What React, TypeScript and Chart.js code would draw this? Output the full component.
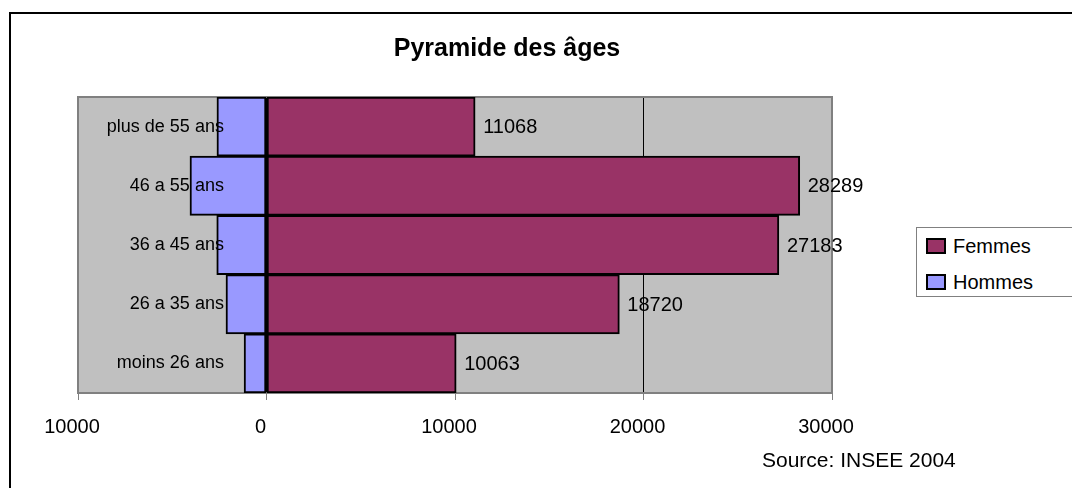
import React, { useEffect, useRef } from "react";
import { Chart, registerables } from "chart.js";

Chart.register(...registerables);

const categories = ["plus de 55 ans", "46 a 55 ans", "36 a 45 ans", "26 a 35 ans", "moins 26 ans"];
const femmes = [11068, 28289, 27183, 18720, 10063];
const hommes = [-2630, -4060, -2640, -2150, -1190];
const xTicks = [-10000, 0, 10000, 20000, 30000];
const titleText = "Pyramide des âges";
const sourceText = "Source: INSEE 2004";

const FONT = "'Liberation Sans', Arial, sans-serif";
const FEMMES_COLOR = "#993366";
const HOMMES_COLOR = "#9999ff";

const plotPlugin = {
  id: "plotDecor",
  beforeDraw(chart: any) {
    const { ctx, chartArea } = chart;
    ctx.save();
    ctx.fillStyle = "#c0c0c0";
    ctx.fillRect(chartArea.left, chartArea.top, chartArea.right - chartArea.left, chartArea.bottom - chartArea.top);
    ctx.restore();
  },
  beforeDatasetsDraw(chart: any) {
    const { ctx, chartArea } = chart;
    ctx.save();
    ctx.strokeStyle = "#808080";
    ctx.lineWidth = 2;
    ctx.strokeRect(chartArea.left, chartArea.top, chartArea.right - chartArea.left, chartArea.bottom - chartArea.top);
    ctx.restore();
  },
  afterDatasetsDraw(chart: any) {
    const { ctx } = chart;
    const xs = chart.scales.x;
    const ys = chart.scales.y;
    ctx.save();
    ctx.fillStyle = "#000";
    ctx.textBaseline = "middle";
    // category labels
    ctx.font = `18px ${FONT}`;
    ctx.textAlign = "right";
    categories.forEach((c, i) => {
      ctx.fillText(c, xs.getPixelForValue(-2260), ys.getPixelForValue(i));
    });
    // data labels for Femmes
    ctx.font = `20px ${FONT}`;
    ctx.textAlign = "left";
    const meta = chart.getDatasetMeta(0);
    meta.data.forEach((bar: any, i: number) => {
      ctx.fillText(String(femmes[i]), bar.x + 8, bar.y + 1);
    });
    ctx.restore();
  },
};

function PyramidChart() {
  const ref = useRef<HTMLCanvasElement | null>(null);
  useEffect(() => {
    if (!ref.current) return;
    const chart = new Chart(ref.current, {
      type: "bar",
      data: {
        labels: categories,
        datasets: [
          {
            label: "Femmes",
            data: femmes,
            backgroundColor: FEMMES_COLOR,
            borderColor: "#000",
            borderWidth: 2,
            borderSkipped: false,
            barPercentage: 1,
            categoryPercentage: 1,
          },
          {
            label: "Hommes",
            data: hommes,
            backgroundColor: HOMMES_COLOR,
            borderColor: "#000",
            borderWidth: 2,
            borderSkipped: false,
            barPercentage: 1,
            categoryPercentage: 1,
          },
        ],
      },
      options: {
        indexAxis: "y",
        animation: false,
        responsive: false,
        maintainAspectRatio: false,
        layout: { padding: { left: 78, right: 240, top: 97, bottom: 0 } },
        plugins: { legend: { display: false }, title: { display: false }, tooltip: { enabled: false } },
        scales: {
          x: {
            type: "linear",
            stacked: true,
            min: -10000,
            max: 30000,
            afterBuildTicks(scale: any) {
              scale.ticks = xTicks.map((v) => ({ value: v }));
            },
            afterFit(scale: any) {
              scale.height = 95;
            },
            grid: {
              color: (c: any) => {
                const v = c.tick && c.tick.value;
                return v === -10000 || v === 30000 ? "rgba(0,0,0,0)" : "#000";
              },
              lineWidth: 1,
              drawTicks: true,
              tickLength: 7,
              tickColor: "#808080",
              tickWidth: 1,
            },
            border: { display: true, color: "#808080", width: 2 },
            ticks: {
              color: "#000",
              font: { family: FONT, size: 20 },
              padding: 15,
              labelOffset: -6,
              maxRotation: 0,
              callback: (v: any) => String(Math.abs(Number(v))),
            },
          },
          y: {
            type: "category",
            stacked: true,
            display: false,
          },
        },
      },
      plugins: [plotPlugin],
    } as any);
    return () => chart.destroy();
  }, []);
  return <canvas ref={ref} width={1072} height={488} style={{ position: "absolute", left: 0, top: 0, width: 1072, height: 488 }} />;
}

function LegendItem({ color, label }: { color: string; label: string }) {
  return (
    <div style={{ display: "flex", alignItems: "center", height: 36 }}>
      <div style={{ width: 16, height: 12, background: color, border: "2px solid #000", marginRight: 7 }} />
      <span style={{ fontSize: 20, fontFamily: FONT, color: "#000" }}>{label}</span>
    </div>
  );
}

export default function App() {
  return (
    <div style={{ position: "fixed", left: 0, top: 0, width: 1072, height: 488, overflow: "hidden", background: "#fff" }}>
      <div style={{ position: "absolute", left: 9, top: 12, width: 1200, height: 600, borderLeft: "2px solid #000", borderTop: "2px solid #000" }} />
      <PyramidChart />
      <div style={{ position: "absolute", left: 0, width: 1014, top: 33, textAlign: "center", fontFamily: FONT, fontWeight: "bold", fontSize: 25, color: "#000" }}>{titleText}</div>
      <div style={{ position: "absolute", left: 916, top: 227, width: 200, height: 70, border: "1px solid #808080", background: "#fff", paddingLeft: 9, boxSizing: "border-box" }}>
        <LegendItem color={FEMMES_COLOR} label="Femmes" />
        <LegendItem color={HOMMES_COLOR} label="Hommes" />
      </div>
      <div style={{ position: "absolute", left: 762, top: 448, fontFamily: FONT, fontSize: 21, color: "#000" }}>{sourceText}</div>
    </div>
  );
}
